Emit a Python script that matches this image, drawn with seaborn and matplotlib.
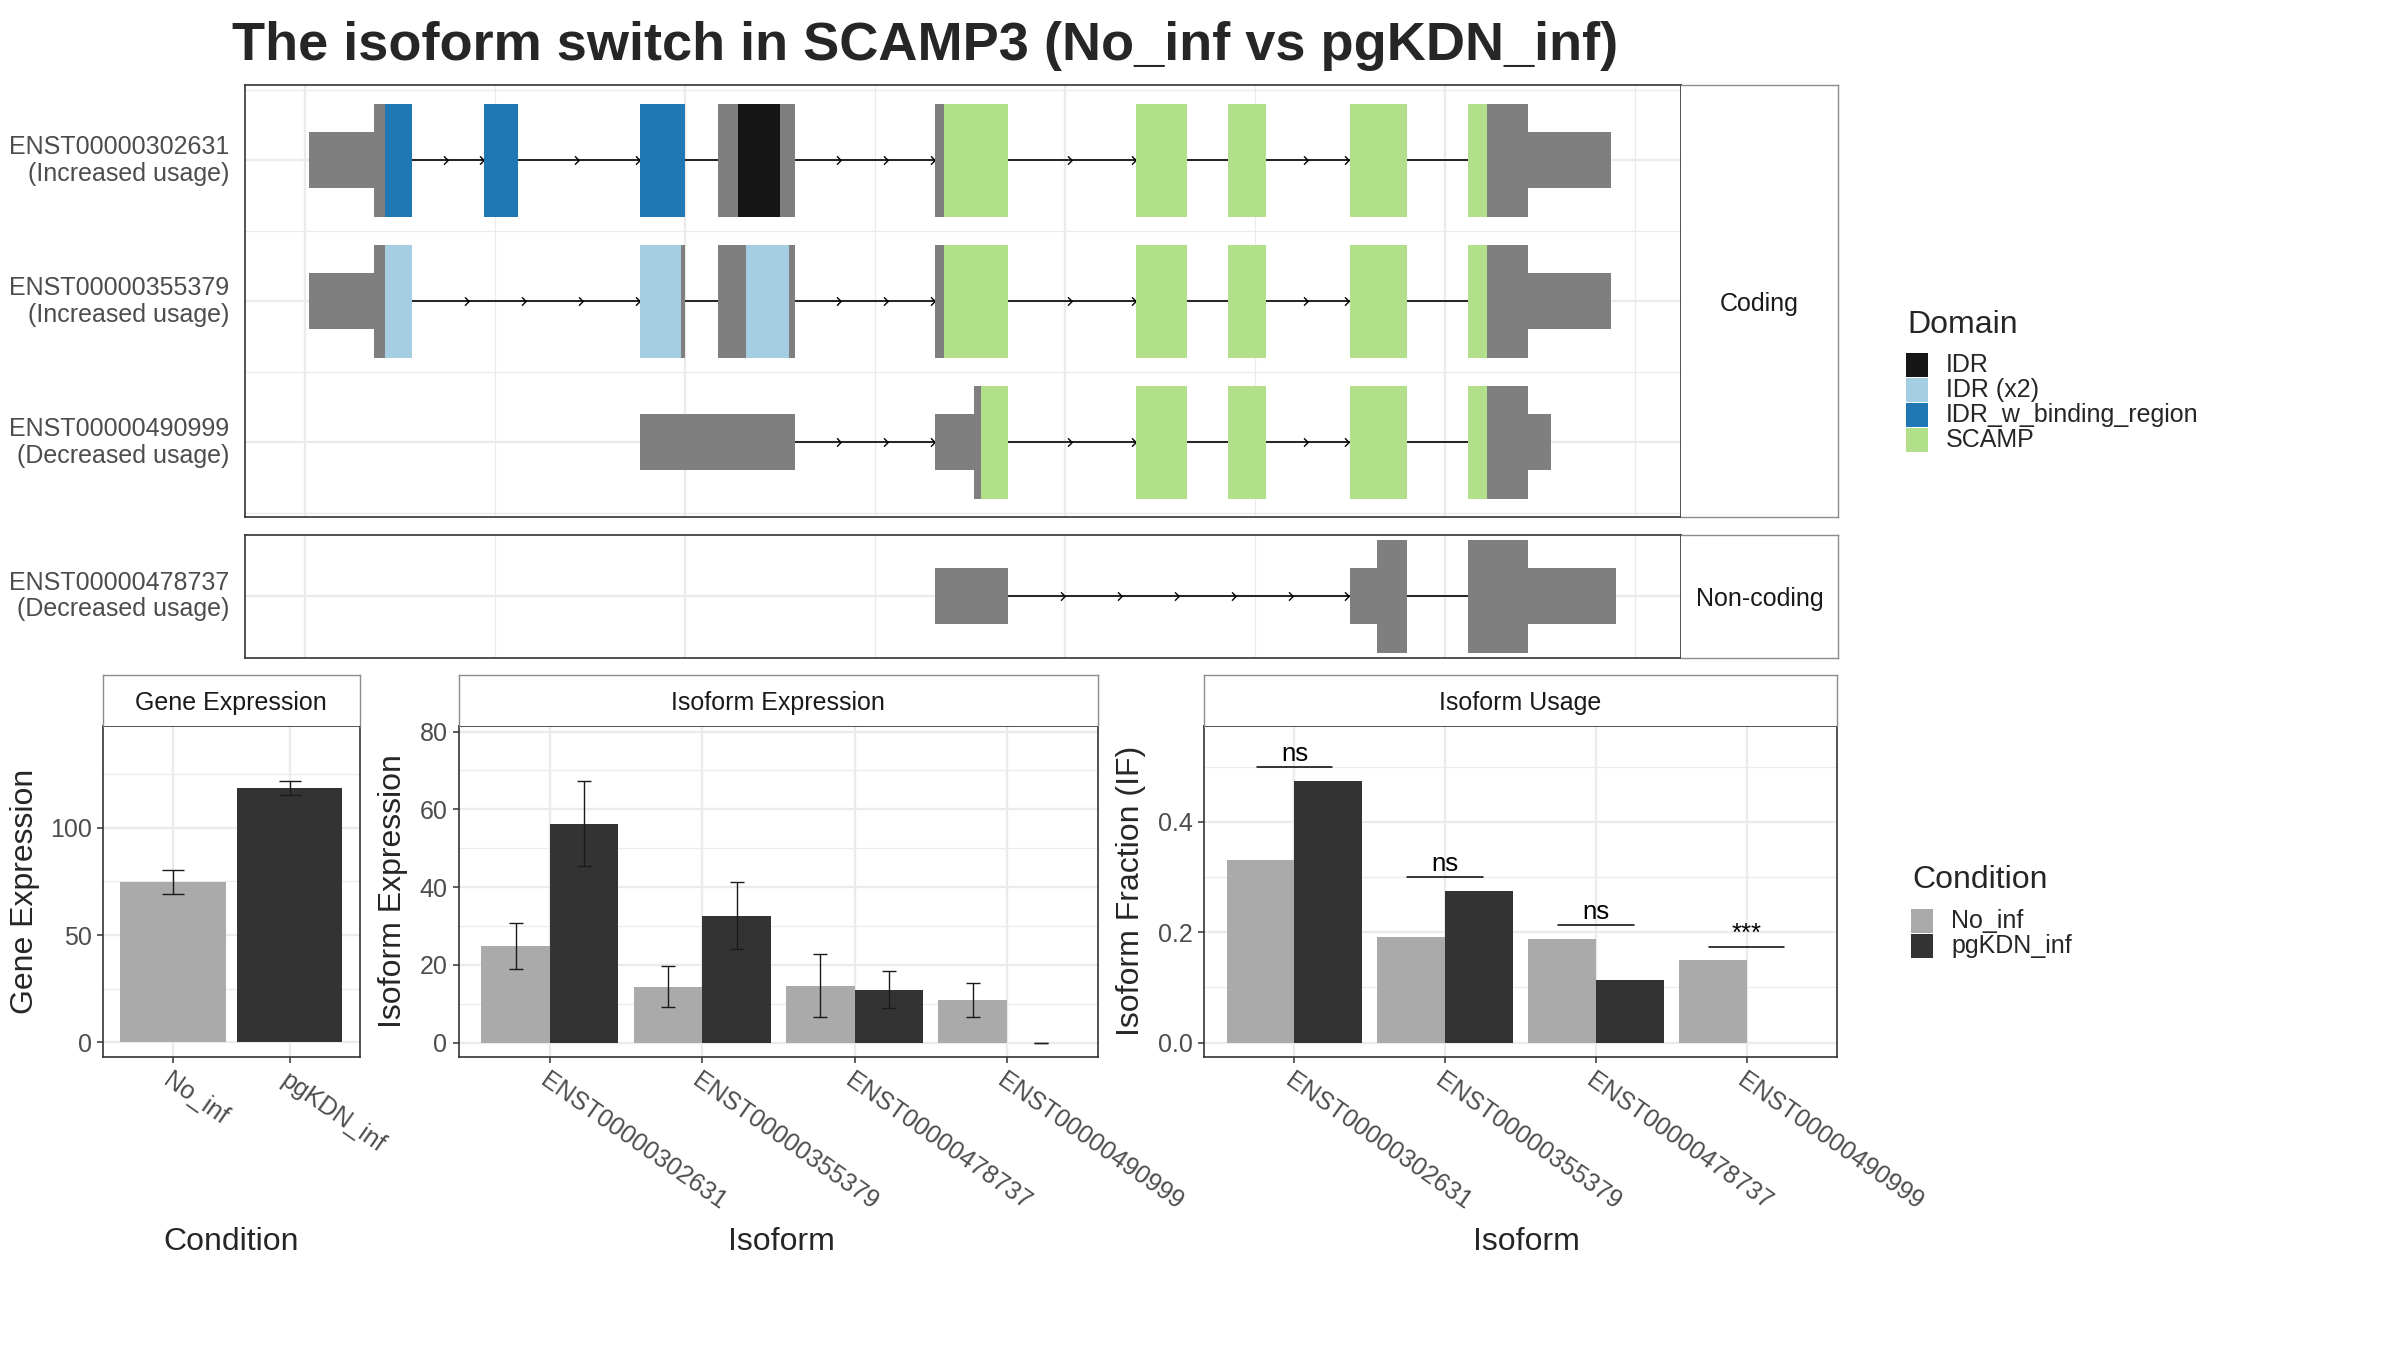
import numpy as np
import pandas as pd
import matplotlib
matplotlib.use("Agg")
import matplotlib.pyplot as plt
import seaborn as sns
from matplotlib.patches import Rectangle
from matplotlib.path import Path

sns.set_theme(style="white")
plt.rcParams["font.family"] = ["Liberation Sans", "DejaVu Sans"]

# ---------------- data ----------------
title = "The isoform switch in SCAMP3 (No_inf vs pgKDN_inf)"

coding_labels = ["ENST00000302631\n(Increased usage)",
                 "ENST00000355379\n(Increased usage)",
                 "ENST00000490999\n(Decreased usage)"]
noncoding_labels = ["ENST00000478737\n(Decreased usage)"]

# transcript structures: segment start / end (genomic units, compressed) and feature
tx1_start = [2, 36.3, 42.2, 94.1, 176.5, 217.6, 227.9, 250.0, 331.9, 336.3, 437.7, 485.8, 550.0, 612.3, 622.1, 643.6]
tx1_end   = [36.3, 42.2, 56.4, 112.3, 200.0, 227.9, 250.0, 257.8, 336.3, 370.1, 464.2, 505.9, 579.9, 622.1, 643.6, 687.7]
tx1_feat  = ["UTR", "CDS", "IDR_w_binding_region", "IDR_w_binding_region", "IDR_w_binding_region",
             "CDS", "IDR", "CDS", "CDS", "SCAMP", "SCAMP", "SCAMP", "SCAMP", "SCAMP", "CDS", "UTR"]

tx2_start = [2, 36.3, 42.2, 176.5, 198.0, 217.6, 231.9, 254.9, 331.9, 336.3, 437.7, 485.8, 550.0, 612.3, 622.1, 643.6]
tx2_end   = [36.3, 42.2, 56.4, 198.0, 200.0, 231.9, 254.9, 257.8, 336.3, 370.1, 464.2, 505.9, 579.9, 622.1, 643.6, 687.7]
tx2_feat  = ["UTR", "CDS", "IDR (x2)", "IDR (x2)", "CDS", "CDS", "IDR (x2)", "CDS",
             "CDS", "SCAMP", "SCAMP", "SCAMP", "SCAMP", "SCAMP", "CDS", "UTR"]

tx3_start = [176.5, 331.9, 352.0, 355.9, 437.7, 485.8, 550.0, 612.3, 622.1, 643.6]
tx3_end   = [257.8, 352.0, 355.9, 370.1, 464.2, 505.9, 579.9, 622.1, 643.6, 655.9]
tx3_feat  = ["UTR", "UTR", "CDS", "SCAMP", "SCAMP", "SCAMP", "SCAMP", "SCAMP", "CDS", "UTR"]

tx4_start = [331.9, 550.0, 564.2, 612.3, 643.6]
tx4_end   = [370.1, 564.2, 579.9, 643.6, 690.2]
tx4_feat  = ["UTR", "UTR", "CDS", "CDS", "UTR"]

domain_names = ["IDR", "IDR (x2)", "IDR_w_binding_region", "SCAMP"]
domain_colors = ["#161616", "#A6CEE3", "#1F78B4", "#B2DF8A"]
exon_grey = "#7F7F7F"

conditions = ["No_inf", "pgKDN_inf"]
cond_colors = ["#AAAAAA", "#333333"]

gene_expr = [74.8, 118.8]
gene_lo = [69.3, 115.3]
gene_hi = [80.5, 122.0]

isoforms = ["ENST00000302631", "ENST00000355379", "ENST00000478737", "ENST00000490999"]
iso_expr_no = [24.8, 14.3, 14.5, 10.9]
iso_expr_pg = [56.3, 32.6, 13.5, 0.0]
iso_lo_no = [18.9, 9.2, 6.5, 6.7]
iso_hi_no = [30.7, 19.6, 22.7, 15.3]
iso_lo_pg = [45.4, 24.0, 8.9, 0.0]
iso_hi_pg = [67.3, 41.4, 18.5, 0.0]

if_no = [0.331, 0.1915, 0.1876, 0.149]
if_pg = [0.4736, 0.2747, 0.113, 0.0]
sig_y = [0.499, 0.2995, 0.2127, 0.173]
sig_lab = ["ns", "ns", "ns", "***"]

# ---------------- style ----------------
W, H = 2400, 1350
fig = plt.figure(figsize=(24, 13.5), dpi=100)
fig.patch.set_facecolor("white")

GRID = "#EBEBEB"
BORDER = "#333333"
TICKTXT = "#4D4D4D"
STRIPB = "#8C8C8C"
FS = 18
FS_T = 23


def add_ax(left, top, right, bottom):
    return fig.add_axes([left / W, 1 - bottom / H, (right - left) / W, (bottom - top) / H])


def style_panel(ax):
    ax.set_facecolor("white")
    for s in ax.spines.values():
        s.set_visible(True)
        s.set_color(BORDER)
        s.set_linewidth(1.2)
        s.set_zorder(5)
    ax.tick_params(which="major", colors=BORDER, labelcolor=TICKTXT, labelsize=FS,
                   length=4.5, width=1.1, left=True, bottom=True)
    ax.tick_params(which="minor", length=0)
    ax.set_axisbelow(True)


def add_grid(ax, xmaj=None, xmin=None, ymaj=None, ymin=None):
    if ymaj is not None:
        for v in ymaj:
            ax.axhline(v, color=GRID, lw=1.7, zorder=0)
    if ymin is not None:
        for v in ymin:
            ax.axhline(v, color=GRID, lw=0.9, zorder=0)
    if xmaj is not None:
        for v in xmaj:
            ax.axvline(v, color=GRID, lw=1.7, zorder=0)
    if xmin is not None:
        for v in xmin:
            ax.axvline(v, color=GRID, lw=0.9, zorder=0)


def strip(left, top, right, bottom, text, hide):
    s = add_ax(left, top, right, bottom)
    s.set_facecolor("white")
    s.set_xticks([])
    s.set_yticks([])
    for k, sp in s.spines.items():
        sp.set_color(STRIPB)
        sp.set_linewidth(1.0)
        if k == hide:
            sp.set_visible(False)
    yc = 0.5 - 3.0 / (bottom - top)
    s.text(0.5, yc, text, ha="center", va="center", fontsize=FS, color="#1A1A1A",
           transform=s.transAxes)
    return s


feat_col = {"UTR": exon_grey, "CDS": exon_grey}
feat_col.update(dict(zip(domain_names, domain_colors)))

chev = Path([(-0.6, 1.0), (0.4, 0.0), (-0.6, -1.0)], [Path.MOVETO, Path.LINETO, Path.LINETO])


def draw_tx(ax, starts, ends, feats, row):
    starts = np.array(starts, float)
    ends = np.array(ends, float)
    hts = np.array([0.4 if f == "UTR" else 0.8 for f in feats])
    cols = [feat_col[f] for f in feats]
    ax.bar(starts, hts, width=ends - starts, bottom=row - hts / 2, align="edge",
           color=cols, linewidth=0, zorder=3)
    # exon blocks -> introns
    bl = []
    for s, e in sorted(zip(starts, ends)):
        if bl and s <= bl[-1][1] + 0.5:
            bl[-1][1] = max(bl[-1][1], e)
        else:
            bl.append([s, e])
    for (s0, e0), (s1, e1) in zip(bl[:-1], bl[1:]):
        ax.plot([e0, s1], [row, row], color="black", lw=1.2, zorder=2)
        L = s1 - e0
        if L > 34.3:
            n = int(np.ceil(L / 34.3))
            xs = [e0 + L * k / n - 1.2 for k in range(1, n + 1)]
            ax.plot(xs, [row] * n, linestyle="none", marker=chev, ms=6,
                    mfc="none", mec="black", mew=1.0, zorder=2.5)


XL = (-31.8, 724.4)
xmaj_g = [0, 200, 400, 600]
xmin_g = [100, 300, 500, 700]

# ---- coding panel ----
ax_c = add_ax(244.7, 85, 1681, 517.3)
style_panel(ax_c)
add_grid(ax_c, xmaj=xmaj_g, xmin=xmin_g, ymaj=[1, 2, 3], ymin=[0.5, 1.5, 2.5, 3.5])
draw_tx(ax_c, tx1_start, tx1_end, tx1_feat, 3)
draw_tx(ax_c, tx2_start, tx2_end, tx2_feat, 2)
draw_tx(ax_c, tx3_start, tx3_end, tx3_feat, 1)
ax_c.set_xlim(*XL)
ax_c.set_ylim(0.468, 3.534)
ax_c.set_xticks([])
ax_c.set_yticks([3, 2, 1])
ax_c.set_yticklabels(coding_labels)
ax_c.tick_params(axis="y", length=0, pad=11)
for t in ax_c.get_yticklabels():
    t.set_linespacing(1.13)
    t.set_va("center")
strip(1681, 85, 1838, 517.3, "Coding", "left")

# ---- non-coding panel ----
ax_n = add_ax(244.7, 535, 1681, 657.5)
style_panel(ax_n)
add_grid(ax_n, xmaj=xmaj_g, xmin=xmin_g, ymaj=[1])
draw_tx(ax_n, tx4_start, tx4_end, tx4_feat, 1)
ax_n.set_xlim(*XL)
ax_n.set_ylim(0.565, 1.435)
ax_n.set_xticks([])
ax_n.set_yticks([1])
ax_n.set_yticklabels(noncoding_labels)
ax_n.tick_params(axis="y", length=0, pad=11)
for t in ax_n.get_yticklabels():
    t.set_linespacing(1.13)
    t.set_va("center")
strip(1681, 535, 1838, 657.5, "Non-coding", "left")

# ---- bottom panels ----
PT, PB = 725.7, 1057
ST = 675


def add_errorbars(ax, means, los, his, capsize, dodge=False):
    for p in ax.patches:
        cx = p.get_x() + p.get_width() / 2
        i = int(round(cx))
        if not dodge:
            m, lo, hi = means[i], los[i], his[i]
        else:
            j = 0 if cx < i else 1
            m, lo, hi = means[j][i], los[j][i], his[j][i]
        ax.errorbar([cx], [m], yerr=[[m - lo], [hi - m]], fmt="none", ecolor="#1A1A1A",
                    elinewidth=1.0, capsize=capsize, capthick=1.0, zorder=4)


def rot_xlabels(ax, labels):
    ax.set_xticks(range(len(labels)))
    ax.set_xticklabels(labels, rotation=-35, ha="left", va="top", rotation_mode="anchor")
    ax.tick_params(axis="x", pad=4)


# Gene expression
df_gene = pd.DataFrame({"Condition": conditions, "GeneExpression": gene_expr})
ax_g = add_ax(102.7, PT, 360, PB)
style_panel(ax_g)
sns.barplot(data=df_gene, x="Condition", y="GeneExpression", hue="Condition",
            hue_order=conditions, order=conditions, palette=cond_colors, width=0.9,
            errorbar=None, legend=False, ax=ax_g, zorder=3, linewidth=0)
add_errorbars(ax_g, gene_expr, gene_lo, gene_hi, capsize=7.9)
ax_g.set_xlim(-0.6, 1.6)
ax_g.set_ylim(-6.9, 147.7)
ax_g.set_yticks([0, 50, 100])
add_grid(ax_g, xmaj=[0, 1], ymaj=[0, 50, 100], ymin=[25, 75, 125])
rot_xlabels(ax_g, conditions)
ax_g.set_xlabel("")
ax_g.set_ylabel("")
strip(102.7, ST, 360, PT, "Gene Expression", "bottom")

# Isoform expression
df_iso = pd.DataFrame({
    "Isoform": isoforms * 2,
    "Condition": [conditions[0]] * 4 + [conditions[1]] * 4,
    "Expression": iso_expr_no + iso_expr_pg,
})
ax_e = add_ax(458.5, PT, 1098.3, PB)
style_panel(ax_e)
sns.barplot(data=df_iso, x="Isoform", y="Expression", hue="Condition", order=isoforms,
            hue_order=conditions, palette=cond_colors, width=0.9, errorbar=None,
            legend=False, ax=ax_e, zorder=3, linewidth=0)
add_errorbars(ax_e, [iso_expr_no, iso_expr_pg], [iso_lo_no, iso_lo_pg],
              [iso_hi_no, iso_hi_pg], capsize=4.7, dodge=True)
ax_e.set_xlim(-0.6, 3.6)
ax_e.set_ylim(-3.7, 81.5)
ax_e.set_yticks([0, 20, 40, 60, 80])
add_grid(ax_e, xmaj=[0, 1, 2, 3], ymaj=[0, 20, 40, 60, 80], ymin=[10, 30, 50, 70])
rot_xlabels(ax_e, isoforms)
ax_e.set_xlabel("")
ax_e.set_ylabel("")
strip(458.5, ST, 1098.3, PT, "Isoform Expression", "bottom")

# Isoform usage
df_if = pd.DataFrame({
    "Isoform": isoforms * 2,
    "Condition": [conditions[0]] * 4 + [conditions[1]] * 4,
    "IF": if_no + if_pg,
})
ax_u = add_ax(1204, PT, 1837, PB)
style_panel(ax_u)
sns.barplot(data=df_if, x="Isoform", y="IF", hue="Condition", order=isoforms,
            hue_order=conditions, palette=cond_colors, width=0.9, errorbar=None,
            legend=False, ax=ax_u, zorder=3, linewidth=0)
for i, (yv, lab) in enumerate(zip(sig_y, sig_lab)):
    ax_u.plot([i - 0.25, i + 0.25], [yv, yv], color="black", lw=1.1, zorder=4)
    ax_u.text(i, yv + 0.002, lab, ha="center", va="bottom", fontsize=18.5, color="black", zorder=4)
ax_u.set_xlim(-0.6, 3.6)
ax_u.set_ylim(-0.026, 0.574)
ax_u.set_yticks([0.0, 0.2, 0.4])
ax_u.set_yticklabels(["0.0", "0.2", "0.4"])
add_grid(ax_u, xmaj=[0, 1, 2, 3], ymaj=[0.0, 0.2, 0.4], ymin=[0.1, 0.3, 0.5])
rot_xlabels(ax_u, isoforms)
ax_u.set_xlabel("")
ax_u.set_ylabel("")
strip(1204, ST, 1837, PT, "Isoform Usage", "bottom")

# axis titles
ymid = 1 - 891 / H
fig.text(25 / W, ymid, "Gene Expression", rotation=90, ha="center", va="center", fontsize=FS_T)
fig.text(393 / W, ymid, "Isoform Expression", rotation=90, ha="center", va="center", fontsize=FS_T)
fig.text(1131 / W, ymid, "Isoform Fraction (IF)", rotation=90, ha="center", va="center", fontsize=FS_T)
yx = 1 - 1242 / H
fig.text(231 / W, yx, "Condition", ha="center", va="center", fontsize=FS_T)
fig.text(781 / W, yx, "Isoform", ha="center", va="center", fontsize=FS_T)
fig.text(1526 / W, yx, "Isoform", ha="center", va="center", fontsize=FS_T)

# title
fig.text(232 / W, 1 - 60 / H, title, fontsize=39, fontweight="bold", ha="left", va="baseline")


# legends (drawn manually, ggplot style)
def legend_block(x_title, y_title, x_key, y_key0, x_text, names, colors, ttl):
    fig.text(x_title / W, 1 - y_title / H, ttl, fontsize=FS_T, ha="left", va="center")
    for k, (nm, c) in enumerate(zip(names, colors)):
        top = y_key0 + 25 * k
        fig.add_artist(Rectangle((x_key / W, 1 - (top + 24) / H), 22 / W, 24 / H,
                                 transform=fig.transFigure, facecolor=c, edgecolor="none"))
        fig.text(x_text / W, 1 - (top + 12) / H, nm, fontsize=FS, ha="left", va="center")


legend_block(1907, 325, 1906, 353, 1946, domain_names, domain_colors, "Domain")
legend_block(1912, 880, 1911, 909, 1951, conditions, cond_colors, "Condition")

fig.savefig("out.png", dpi=100, facecolor="white")
